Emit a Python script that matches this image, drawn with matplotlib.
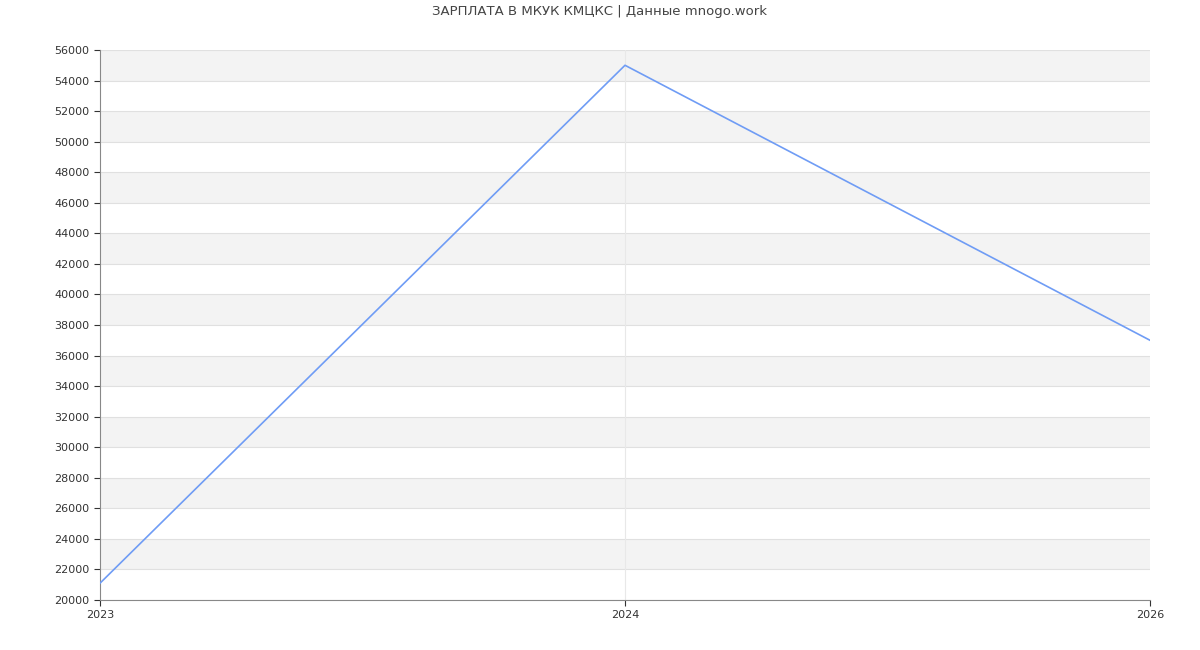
import matplotlib
matplotlib.use("Agg")
import matplotlib.pyplot as plt

years = ["2023", "2024", "2026"]
salary = [21100, 55000, 37000]
title = "ЗАРПЛАТА В МКУК КМЦКС | Данные mnogo.work"

fig = plt.figure(figsize=(12, 6.5), dpi=100)
ax = fig.add_axes([100/1200, 50/650, 1050/1200, 550/650])
x = list(range(len(years)))
ymin, ymax = 20000, 56000
for lo in range(22000, ymax, 4000):
    ax.axhspan(lo, lo + 2000, color="#f3f3f3", zorder=0, lw=0)
for y in range(ymin, ymax + 1, 2000):
    ax.axhline(y, color="#e0e0e0", lw=0.8, zorder=1)
ax.axvline(1, color="#e8e8e8", lw=0.8, zorder=1)
ax.plot(x, salary, color="#6f9cf5", lw=1.2, zorder=3)
ax.set_xlim(0, 2)
ax.set_ylim(ymin, ymax)
ax.set_xticks(x)
ax.set_xticklabels(years)
ax.set_yticks(range(ymin, ymax + 1, 2000))
ax.tick_params(labelsize=8, colors="#333333", length=4)
for s in ["top", "right"]:
    ax.spines[s].set_visible(False)
for s in ["left", "bottom"]:
    ax.spines[s].set_color("#888888")
fig.text(0.5, 1 - 12/650, title, ha="center", va="center", fontsize=9.5, color="#444444")
fig.savefig("out.png", dpi=100)
